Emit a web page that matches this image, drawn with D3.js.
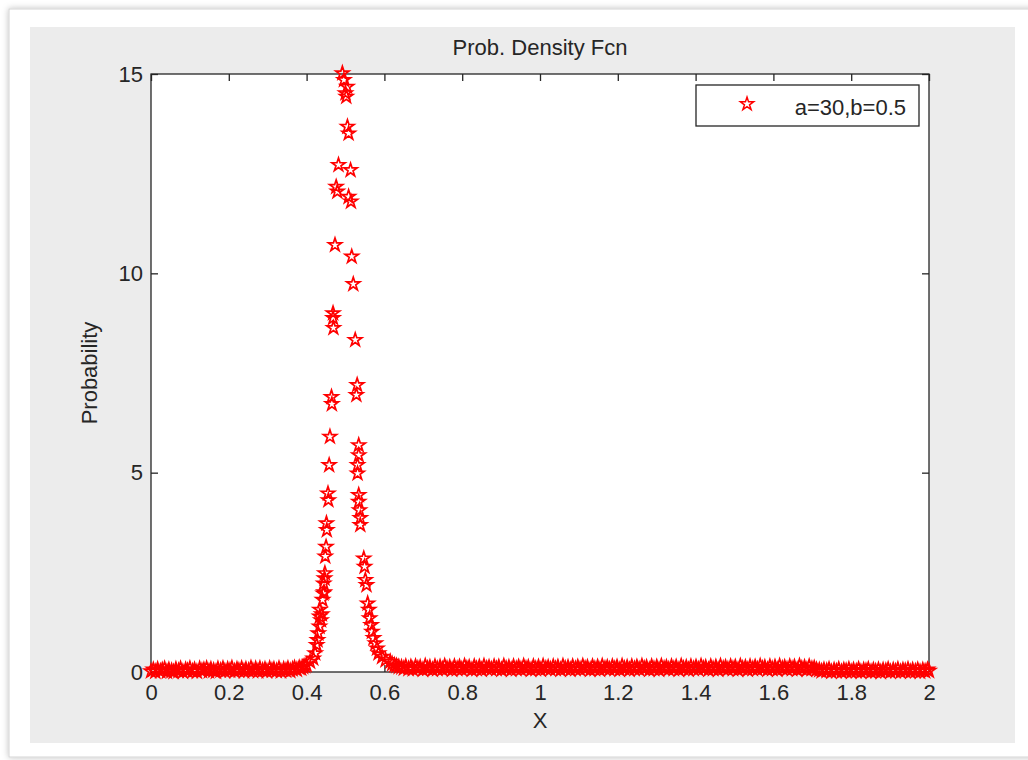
<!DOCTYPE html>
<html>
<head>
<meta charset="utf-8">
<script src="https://d3js.org/d3.v7.min.js"></script>
<style>
  body { margin: 0; background: #ffffff; }
  text { font-family: "Liberation Sans", Arial, sans-serif; fill: #262626; }
</style>
</head>
<body>
<svg id="chart" width="1028" height="760"></svg>
<script>
  // axis ticks
  var xTicks = [0, 0.2, 0.4, 0.6, 0.8, 1, 1.2, 1.4, 1.6, 1.8, 2];
  var yTicks = [0, 5, 10, 15];
  var legendLabel = "a=30,b=0.5";

  // the peak
  var peakX = [0.400, 0.409, 0.417, 0.422, 0.426, 0.428, 0.430, 0.433, 0.4335, 0.434,
               0.437, 0.439, 0.441, 0.443, 0.444, 0.445, 0.446, 0.447, 0.448, 0.450,
               0.451, 0.452, 0.455, 0.456, 0.458, 0.460, 0.464, 0.465, 0.468, 0.468,
               0.469, 0.473, 0.476, 0.479, 0.482, 0.492, 0.496, 0.500, 0.502, 0.504,
               0.505, 0.508, 0.508, 0.513, 0.514, 0.516, 0.520, 0.525, 0.528, 0.530,
               0.531, 0.531, 0.534, 0.534, 0.534, 0.534, 0.536, 0.538, 0.538, 0.547,
               0.549, 0.551, 0.554, 0.557, 0.560, 0.562, 0.566, 0.568, 0.572, 0.577,
               0.581, 0.585, 0.594, 0.603, 0.615];
  var peakY = [0.18, 0.26, 0.34, 0.47, 0.68, 0.80, 0.97, 1.14, 1.39, 1.56,
               1.30, 1.45, 1.81, 1.97, 2.22, 2.00, 2.35, 2.48, 2.90, 3.14,
               3.73, 3.56, 4.48, 4.31, 5.19, 5.90, 6.90, 6.72, 9.00, 8.88,
               8.63, 10.71, 12.17, 12.05, 12.72, 15.02, 14.85, 14.52, 14.43, 14.68,
               13.68, 13.51, 11.92, 12.59, 11.80, 10.42, 9.73, 8.33, 6.95, 7.20,
               5.19, 4.98, 5.69, 5.44, 4.44, 4.27, 4.06, 3.86, 3.69, 2.85,
               2.64, 2.31, 2.18, 1.72, 1.56, 1.35, 1.18, 1.01, 0.85, 0.72,
               0.59, 0.47, 0.38, 0.30, 0.26];

  // the near-zero band left of the peak
  var tailLeft = [
    [0.000,.02],[0.006,.06],[0.011,.01],[0.017,.07],[0.024,.02],[0.029,.05],[0.035,.08],[0.041,.01],[0.046,.06],[0.053,.03],
    [0.058,.00],[0.064,.07],[0.071,.03],[0.076,.08],[0.082,.01],[0.089,.06],[0.094,.03],[0.100,.09],[0.107,.02],[0.112,.06],
    [0.118,.01],[0.125,.08],[0.131,.03],[0.136,.06],[0.143,.09],[0.149,.02],[0.154,.07],[0.161,.04],[0.167,.01],[0.172,.08],
    [0.179,.04],[0.185,.09],[0.190,.02],[0.197,.07],[0.203,.04],[0.208,.10],[0.215,.02],[0.221,.07],[0.226,.04],[0.233,.09],
    [0.239,.02],[0.244,.07],[0.251,.04],[0.257,.10],[0.262,.03],[0.269,.08],[0.275,.02],[0.280,.09],[0.287,.04],[0.293,.07],
    [0.298,.02],[0.305,.09],[0.311,.04],[0.316,.07],[0.323,.03],[0.329,.09],[0.334,.02],[0.341,.07],[0.347,.04],[0.352,.09],
    [0.358,.03],[0.364,.07],[0.369,.10],[0.375,.06],[0.381,.11],[0.386,.09],[0.391,.13],[0.396,.15]
  ];

  // the near-zero band right of the peak
  var tailRight = [
    [0.620,.20],[0.626,.17],[0.631,.15],[0.637,.13],[0.644,.12],[0.650,.09],[0.655,.14],[0.662,.08],[0.668,.13],[0.673,.07],
    [0.680,.14],[0.686,.09],[0.692,.12],[0.699,.06],[0.705,.15],[0.711,.09],[0.717,.12],[0.724,.06],[0.730,.14],[0.736,.08],
    [0.743,.13],[0.749,.07],[0.755,.15],[0.761,.09],[0.768,.12],[0.774,.06],[0.780,.14],[0.787,.08],[0.793,.13],[0.799,.07],
    [0.806,.15],[0.812,.09],[0.818,.12],[0.825,.06],[0.831,.14],[0.837,.08],[0.844,.13],[0.850,.06],[0.856,.15],[0.863,.09],
    [0.869,.12],[0.875,.07],[0.882,.14],[0.888,.08],[0.894,.13],[0.901,.06],[0.907,.15],[0.913,.09],[0.920,.12],[0.926,.06],
    [0.932,.14],[0.939,.08],[0.945,.13],[0.951,.07],[0.958,.15],[0.964,.09],[0.970,.12],[0.977,.06],[0.983,.14],[0.989,.08],
    [0.996,.13],[1.002,.06],[1.008,.15],[1.015,.09],[1.021,.12],[1.027,.07],[1.034,.14],[1.040,.08],[1.046,.13],[1.053,.06],
    [1.059,.15],[1.065,.09],[1.072,.12],[1.078,.06],[1.084,.14],[1.091,.08],[1.097,.13],[1.103,.07],[1.110,.15],[1.116,.09],
    [1.122,.12],[1.129,.06],[1.135,.14],[1.141,.08],[1.148,.13],[1.154,.06],[1.160,.15],[1.167,.09],[1.173,.12],[1.179,.07],
    [1.186,.14],[1.192,.08],[1.198,.13],[1.205,.06],[1.211,.15],[1.217,.09],[1.224,.12],[1.230,.06],[1.236,.14],[1.243,.08],
    [1.249,.13],[1.255,.07],[1.262,.15],[1.268,.09],[1.274,.12],[1.281,.06],[1.287,.14],[1.293,.08],[1.300,.13],[1.306,.06],
    [1.312,.15],[1.319,.09],[1.325,.12],[1.331,.07],[1.338,.14],[1.344,.08],[1.350,.13],[1.357,.06],[1.363,.15],[1.369,.09],
    [1.376,.12],[1.382,.06],[1.388,.14],[1.395,.08],[1.401,.13],[1.407,.07],[1.414,.15],[1.420,.09],[1.426,.12],[1.433,.06],
    [1.439,.14],[1.445,.08],[1.452,.13],[1.458,.06],[1.464,.15],[1.471,.09],[1.477,.12],[1.483,.07],[1.490,.14],[1.496,.08],
    [1.502,.13],[1.509,.06],[1.515,.15],[1.521,.09],[1.528,.12],[1.534,.06],[1.540,.14],[1.547,.08],[1.553,.13],[1.559,.07],
    [1.566,.15],[1.572,.09],[1.578,.12],[1.585,.06],[1.591,.14],[1.597,.08],[1.604,.13],[1.610,.06],[1.616,.15],[1.623,.09],
    [1.629,.12],[1.635,.07],[1.642,.14],[1.648,.08],[1.654,.13],[1.661,.06],[1.667,.15],[1.673,.09],[1.680,.12],[1.686,.06],
    [1.692,.14],[1.699,.08],[1.705,.10],[1.711,.06],[1.718,.05],[1.724,.02],[1.730,.06],[1.737,.03],[1.743,.07],[1.749,.01],
    [1.756,.05],[1.762,.02],[1.768,.07],[1.775,.01],[1.781,.05],[1.787,.03],[1.794,.07],[1.800,.01],[1.806,.05],[1.813,.02],
    [1.819,.07],[1.825,.01],[1.832,.05],[1.838,.03],[1.844,.07],[1.851,.01],[1.857,.05],[1.863,.02],[1.870,.06],[1.876,.00],
    [1.882,.05],[1.889,.03],[1.895,.07],[1.901,.01],[1.908,.05],[1.914,.02],[1.920,.07],[1.927,.01],[1.933,.05],[1.939,.03],
    [1.946,.07],[1.952,.01],[1.958,.05],[1.965,.02],[1.971,.06],[1.977,.01],[1.984,.05],[1.990,.02],[1.996,.06],[2.000,.03]
  ];

  var svg = d3.select("#chart");

  // window frame + grey figure background
  var defs = svg.append("defs");
  var f = defs.append("filter").attr("id", "shadow")
    .attr("x", "-5%").attr("y", "-5%").attr("width", "110%").attr("height", "110%");
  f.append("feDropShadow").attr("dx", 0).attr("dy", 0).attr("stdDeviation", 3)
    .attr("flood-color", "#000").attr("flood-opacity", 0.25);

  svg.append("rect")
    .attr("x", 9).attr("y", 9).attr("width", 1030).attr("height", 748)
    .attr("fill", "#ffffff").attr("stroke", "#d4d4d4")
    .attr("filter", "url(#shadow)");
  svg.append("rect")
    .attr("x", 30).attr("y", 27).attr("width", 985).attr("height", 716)
    .attr("fill", "#ececec");

  var plotL = 151, plotR = 929, plotT = 74, plotB = 672;

  var x = d3.scaleLinear().domain([0, 2]).range([plotL, plotR]);
  var y = d3.scaleLinear().domain([0, 15]).range([plotB, plotT]);

  // axes box
  svg.append("rect")
    .attr("x", plotL).attr("y", plotT)
    .attr("width", plotR - plotL).attr("height", plotB - plotT)
    .attr("fill", "#ffffff");

  function styleAxis(g) {
    g.select(".domain").remove();
    g.selectAll(".tick line").attr("stroke", "#262626").attr("stroke-width", 1.3);
    g.selectAll(".tick text").attr("fill", "#262626")
      .style("font-family", "'Liberation Sans', Arial, sans-serif").style("font-size", "22px");
  }

  var fmt = function(d) { return String(d); };

  svg.append("g")
    .attr("transform", "translate(0," + plotB + ")")
    .call(d3.axisBottom(x).tickValues(xTicks).tickFormat(fmt).tickSize(-7).tickPadding(12))
    .call(styleAxis);
  svg.append("g")
    .attr("transform", "translate(0," + plotT + ")")
    .call(d3.axisTop(x).tickValues(xTicks).tickFormat("").tickSize(-7))
    .call(styleAxis);
  svg.append("g")
    .attr("transform", "translate(" + plotL + ",0)")
    .call(d3.axisLeft(y).tickValues(yTicks).tickFormat(fmt).tickSize(-7).tickPadding(8))
    .call(styleAxis);
  svg.append("g")
    .attr("transform", "translate(" + plotR + ",0)")
    .call(d3.axisRight(y).tickValues(yTicks).tickFormat("").tickSize(-7))
    .call(styleAxis);

  svg.append("rect")
    .attr("x", plotL).attr("y", plotT)
    .attr("width", plotR - plotL).attr("height", plotB - plotT)
    .attr("fill", "none").attr("stroke", "#262626").attr("stroke-width", 1.3);

  // data
  var pts = tailLeft.map(function(d) { return {x: d[0], y: d[1]}; });
  peakX.forEach(function(v, i) { pts.push({x: v, y: peakY[i]}); });
  tailRight.forEach(function(d) { pts.push({x: d[0], y: d[1]}); });

  var star = d3.symbol().type(d3.symbolStar).size(54);

  svg.append("g").selectAll("path")
    .data(pts)
    .enter()
    .append("path")
      .attr("d", star)
      .attr("transform", function(d) { return "translate(" + x(d.x) + "," + y(d.y) + ")"; })
      .attr("fill", "none")
      .attr("stroke", "#ff0000")
      .attr("stroke-width", 1.7);

  // titles
  svg.append("text")
    .attr("x", (plotL + plotR) / 2).attr("y", 55)
    .attr("text-anchor", "middle").style("font-size", "22px")
    .text("Prob. Density Fcn");
  svg.append("text")
    .attr("x", (plotL + plotR) / 2).attr("y", 728)
    .attr("text-anchor", "middle").style("font-size", "22px")
    .text("X");
  svg.append("text")
    .attr("transform", "translate(97,373) rotate(-90)")
    .attr("text-anchor", "middle").style("font-size", "22px")
    .text("Probability");

  // legend
  var lg = svg.append("g");
  lg.append("rect")
    .attr("x", 696).attr("y", 85).attr("width", 223).attr("height", 41)
    .attr("fill", "#ffffff").attr("stroke", "#262626").attr("stroke-width", 1.3);
  lg.append("path")
    .attr("d", star)
    .attr("transform", "translate(747,104)")
    .attr("fill", "none").attr("stroke", "#ff0000").attr("stroke-width", 1.5);
  lg.append("text")
    .attr("x", 906).attr("y", 115)
    .attr("text-anchor", "end").style("font-size", "22px")
    .text(legendLabel);
</script>
</body>
</html>
